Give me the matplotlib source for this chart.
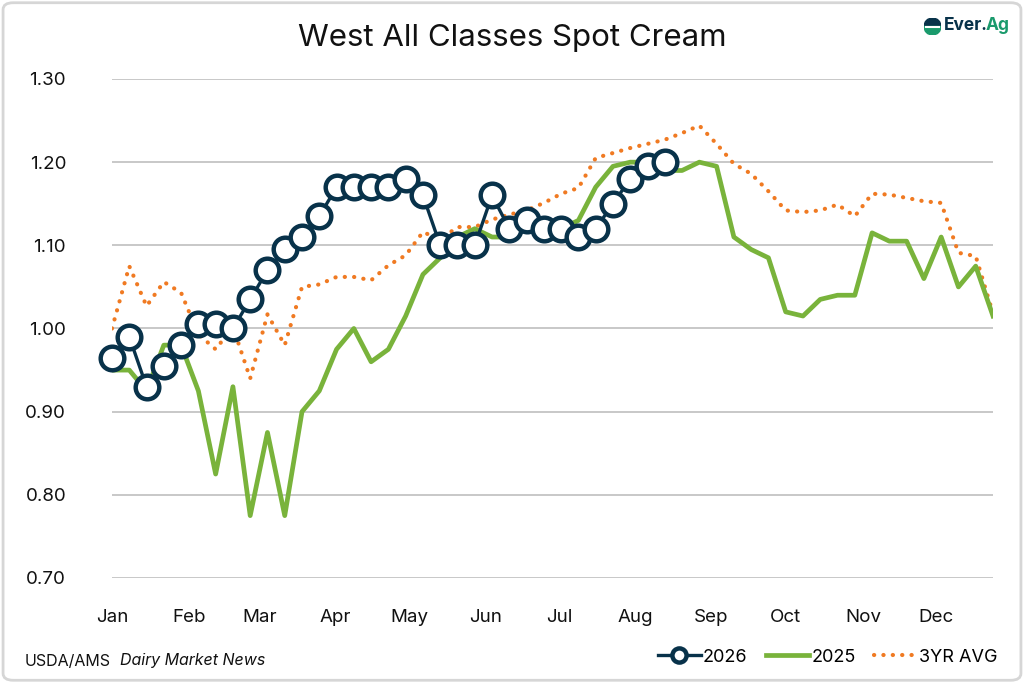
import numpy as np
import matplotlib
matplotlib.use("Agg")
import matplotlib.pyplot as plt
from matplotlib.patches import FancyBboxPatch, Wedge

plt.rcParams["font.family"] = ["Inter", "DejaVu Sans"]

# weekly values (week 0 = first week of Jan)
y2026 = [0.965, 0.99, 0.93, 0.955, 0.98, 1.005, 1.005, 1.00, 1.035, 1.07,
         1.095, 1.11, 1.135, 1.17, 1.17, 1.17, 1.17, 1.18, 1.16, 1.10,
         1.10, 1.10, 1.16, 1.12, 1.13, 1.12, 1.12, 1.11, 1.12, 1.15,
         1.18, 1.195, 1.20]
y2025 = [0.95, 0.95, 0.925, 0.98, 0.98, 0.925, 0.825, 0.93, 0.775, 0.875,
         0.775, 0.90, 0.925, 0.975, 1.00, 0.96, 0.975, 1.015, 1.065, 1.085,
         1.11, 1.12, 1.11, 1.11, 1.12, 1.12, 1.12, 1.13, 1.17, 1.195,
         1.20, 1.20, 1.19, 1.19, 1.20, 1.195, 1.11, 1.095, 1.085, 1.02,
         1.015, 1.035, 1.04, 1.04, 1.115, 1.105, 1.105, 1.06, 1.11, 1.05,
         1.075, 1.015]
avg3 = [1.00, 1.075, 1.027, 1.056, 1.043, 0.993, 0.975, 1.002, 0.94, 1.017,
        0.98, 1.05, 1.053, 1.062, 1.062, 1.058, 1.076, 1.088, 1.116, 1.107,
        1.122, 1.122, 1.131, 1.137, 1.142, 1.151, 1.162, 1.169, 1.205, 1.211,
        1.217, 1.222, 1.227, 1.235, 1.244, 1.222, 1.198, 1.186, 1.165, 1.142,
        1.14, 1.142, 1.149, 1.135, 1.162, 1.161, 1.157, 1.153, 1.151, 1.091,
        1.087, 1.018]
months = ["Jan", "Feb", "Mar", "Apr", "May", "Jun",
          "Jul", "Aug", "Sep", "Oct", "Nov", "Dec"]
month_week = [0, 4.45, 8.55, 12.9, 17.2, 21.6, 25.9, 30.3, 34.7, 39.0, 43.5, 47.7]
yticks = [0.70, 0.80, 0.90, 1.00, 1.10, 1.20, 1.30]

navy = "#08324a"
green = "#79b33b"
orange = "#f07a22"
teal = "#1a9a6c"

fig = plt.figure(figsize=(10.24, 6.83), dpi=100)
ax = fig.add_axes([112 / 1024, 1 - 578 / 683, 881 / 1024, 499 / 683])

ax.plot(np.arange(len(avg3)), avg3, color=orange, lw=3.0,
        dashes=(0.05, 2.2), dash_capstyle="round", label="3YR AVG", zorder=2)
ax.plot(np.arange(len(y2025)), y2025, color=green, lw=3.4, label="2025", zorder=3)
ax.plot(np.arange(len(y2026)), y2026, color=navy, lw=2.4, marker="o",
        markersize=17, markerfacecolor="white", markeredgecolor=navy,
        markeredgewidth=3.2, label="2026", zorder=4, clip_on=False)

ax.set_xlim(0, 51)
ax.set_ylim(0.70, 1.30)
ax.set_yticks(yticks)
ax.set_yticklabels([f"{v:.2f}" for v in yticks])
ax.set_xticks(month_week)
ax.set_xticklabels(months)
ax.tick_params(axis="both", length=0, labelsize=13.5, colors="#111111")
ax.tick_params(axis="y", pad=33)
ax.tick_params(axis="x", pad=22)
ax.grid(axis="y", color="#c8c8c8", lw=1.4)
ax.set_axisbelow(True)
for s in ax.spines.values():
    s.set_visible(False)

fig.text(0.5, 1 - 38 / 683, "West All Classes Spot Cream", ha="center",
         va="center", fontsize=22.5, color="#111111")

# legend, bottom right
h, l = ax.get_legend_handles_labels()
order = [2, 1, 0]
leg = fig.legend([h[i] for i in order], [l[i] for i in order], ncol=3,
                 loc="center right", bbox_to_anchor=(0.99, 1 - 657 / 683),
                 frameon=False, fontsize=13, handlelength=2.4,
                 handletextpad=0.12, columnspacing=1.0, markerscale=0.6)

# source note
fig.text(25 / 1024, 1 - 661 / 683, "USDA/AMS", ha="left", va="center",
         fontsize=11.5, color="#111111")
fig.text(120 / 1024, 1 - 661 / 683, "Dairy Market News", ha="left",
         va="center", fontsize=11.5, style="italic", color="#111111")

# logo
t1 = fig.text(944 / 1024, 1 - 26 / 683, "Ever.", ha="left", va="center",
              fontsize=12.5, fontweight="bold", color=navy)
fig.canvas.draw()
bb = t1.get_window_extent()
fig.text((bb.x1 - 2) / 1024, 1 - 26 / 683, "Ag", ha="left", va="center",
         fontsize=12.5, fontweight="bold", color=teal)
lax = fig.add_axes([924 / 1024, 1 - 35 / 683, 17 / 1024, 17 / 683])
lax.add_patch(Wedge((0.5, 0.5), 0.5, 0, 180, color=navy))
lax.add_patch(Wedge((0.5, 0.5), 0.5, 180, 360, color=teal))
lax.plot([0.1, 0.9], [0.5, 0.5], color="white", lw=1.5)
lax.set_xlim(0, 1)
lax.set_ylim(0, 1)
lax.set_aspect("equal")
lax.axis("off")

# rounded border
fig.patches.append(FancyBboxPatch((0.003, 0.004), 0.994, 0.992,
                                  boxstyle="round,pad=0,rounding_size=0.01",
                                  transform=fig.transFigure, fill=False,
                                  edgecolor="#d6d6d6", lw=2))

fig.savefig("out.png", dpi=100)
